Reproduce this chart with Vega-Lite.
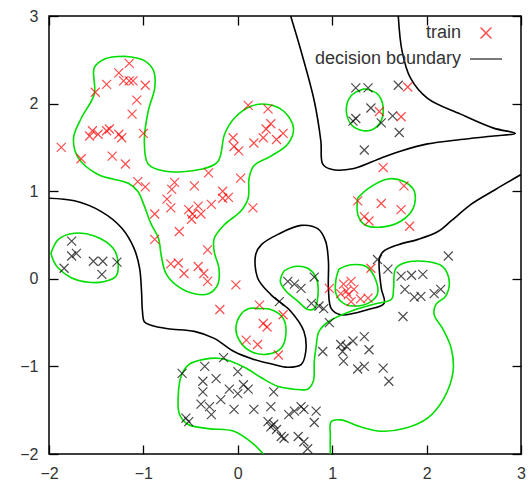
{
"$schema": "https://vega.github.io/schema/vega-lite/v6.json",
"width": 472, "height": 438,
"padding": {"left": 19, "top": 8, "right": 5, "bottom": 0},
"datasets": {
"pts": [
{"x":-1.15,"y":2.46,"s":"train"},{"x":-1.26,"y":2.35,"s":"train"},{"x":-1.39,"y":2.22,"s":"train"},{"x":-1.21,"y":2.26,"s":"train"},{"x":-1.15,"y":2.26,"s":"train"},{"x":-1.11,"y":2.26,"s":"train"},{"x":-0.98,"y":2.21,"s":"train"},{"x":-1.51,"y":2.13,"s":"train"},{"x":-1.07,"y":2.04,"s":"train"},{"x":-1.12,"y":1.88,"s":"train"},
{"x":-1.54,"y":1.69,"s":"train"},{"x":-1.57,"y":1.63,"s":"train"},{"x":-1.48,"y":1.65,"s":"train"},{"x":-1.39,"y":1.69,"s":"train"},{"x":-1.36,"y":1.71,"s":"train"},{"x":-1.26,"y":1.65,"s":"train"},{"x":-1.23,"y":1.61,"s":"train"},{"x":-1.00,"y":1.66,"s":"train"},{"x":-1.87,"y":1.50,"s":"train"},{"x":-1.66,"y":1.37,"s":"train"},
{"x":-1.33,"y":1.40,"s":"train"},{"x":-1.19,"y":1.31,"s":"train"},{"x":-1.06,"y":1.11,"s":"train"},{"x":-0.98,"y":1.05,"s":"train"},{"x":-0.88,"y":0.74,"s":"train"},{"x":-0.75,"y":0.91,"s":"train"},{"x":-0.70,"y":1.02,"s":"train"},{"x":-0.67,"y":1.10,"s":"train"},{"x":-0.71,"y":0.81,"s":"train"},{"x":-0.52,"y":0.79,"s":"train"},
{"x":-0.46,"y":1.06,"s":"train"},{"x":-0.42,"y":0.83,"s":"train"},{"x":-0.39,"y":0.74,"s":"train"},{"x":-0.48,"y":0.74,"s":"train"},{"x":-0.49,"y":0.68,"s":"train"},{"x":-0.31,"y":1.21,"s":"train"},{"x":-0.28,"y":0.85,"s":"train"},{"x":-0.16,"y":1.00,"s":"train"},{"x":-0.16,"y":0.92,"s":"train"},{"x":-0.10,"y":0.93,"s":"train"},
{"x":0.03,"y":1.15,"s":"train"},{"x":0.16,"y":0.81,"s":"train"},{"x":-0.62,"y":0.54,"s":"train"},{"x":-0.88,"y":0.45,"s":"train"},{"x":-0.32,"y":0.33,"s":"train"},{"x":-0.71,"y":0.17,"s":"train"},{"x":-0.63,"y":0.18,"s":"train"},{"x":-0.57,"y":0.06,"s":"train"},{"x":-0.42,"y":0.14,"s":"train"},{"x":-0.36,"y":0.06,"s":"train"},
{"x":-0.32,"y":-0.03,"s":"train"},{"x":-0.02,"y":-0.07,"s":"train"},{"x":-0.19,"y":-0.35,"s":"train"},{"x":0.11,"y":1.98,"s":"train"},{"x":0.32,"y":1.94,"s":"train"},{"x":0.35,"y":1.77,"s":"train"},{"x":0.30,"y":1.71,"s":"train"},{"x":0.48,"y":1.66,"s":"train"},{"x":0.41,"y":1.59,"s":"train"},{"x":0.27,"y":1.61,"s":"train"},
{"x":0.17,"y":1.55,"s":"train"},{"x":-0.05,"y":1.61,"s":"train"},{"x":-0.04,"y":1.51,"s":"train"},{"x":0.01,"y":1.46,"s":"train"},{"x":0.23,"y":-0.30,"s":"train"},{"x":0.31,"y":-0.55,"s":"train"},{"x":0.27,"y":-0.51,"s":"train"},{"x":0.09,"y":-0.70,"s":"train"},{"x":0.21,"y":-0.75,"s":"train"},{"x":0.43,"y":-0.87,"s":"train"},
{"x":0.48,"y":-0.41,"s":"train"},{"x":0.97,"y":-0.11,"s":"train"},{"x":1.41,"y":0.12,"s":"train"},{"x":1.12,"y":-0.06,"s":"train"},{"x":1.20,"y":-0.03,"s":"train"},{"x":1.23,"y":-0.12,"s":"train"},{"x":1.17,"y":-0.18,"s":"train"},{"x":1.20,"y":-0.26,"s":"train"},{"x":1.30,"y":-0.23,"s":"train"},{"x":1.38,"y":-0.22,"s":"train"},
{"x":1.09,"y":-0.17,"s":"train"},{"x":1.15,"y":-0.14,"s":"train"},{"x":1.27,"y":0.89,"s":"train"},{"x":1.52,"y":0.86,"s":"train"},{"x":1.73,"y":0.79,"s":"train"},{"x":1.34,"y":0.71,"s":"train"},{"x":1.39,"y":0.66,"s":"train"},{"x":1.82,"y":0.60,"s":"train"},{"x":1.76,"y":1.06,"s":"train"},{"x":1.54,"y":1.27,"s":"train"},
{"x":1.80,"y":2.19,"s":"train"},{"x":1.50,"y":1.91,"s":"train"},{"x":1.73,"y":1.85,"s":"train"},
{"x":1.25,"y":2.18,"s":"other"},{"x":1.38,"y":2.18,"s":"other"},{"x":1.70,"y":2.21,"s":"other"},{"x":1.41,"y":1.95,"s":"other"},{"x":1.22,"y":1.80,"s":"other"},{"x":1.25,"y":1.83,"s":"other"},{"x":1.52,"y":1.78,"s":"other"},{"x":1.64,"y":1.86,"s":"other"},{"x":1.71,"y":1.67,"s":"other"},{"x":1.34,"y":1.47,"s":"other"},
{"x":-1.76,"y":0.43,"s":"other"},{"x":-1.71,"y":0.29,"s":"other"},{"x":-1.76,"y":0.26,"s":"other"},{"x":-1.84,"y":0.12,"s":"other"},{"x":-1.53,"y":0.20,"s":"other"},{"x":-1.43,"y":0.20,"s":"other"},{"x":-1.28,"y":0.19,"s":"other"},{"x":-1.44,"y":0.05,"s":"other"},
{"x":0.53,"y":-0.03,"s":"other"},{"x":0.60,"y":-0.06,"s":"other"},{"x":0.67,"y":-0.11,"s":"other"},{"x":0.81,"y":0.02,"s":"other"},{"x":0.78,"y":-0.28,"s":"other"},{"x":0.86,"y":-0.31,"s":"other"},{"x":0.91,"y":-0.34,"s":"other"},{"x":0.97,"y":-0.50,"s":"other"},{"x":0.44,"y":-0.26,"s":"other"},
{"x":1.59,"y":0.11,"s":"other"},{"x":1.73,"y":0.03,"s":"other"},{"x":1.84,"y":0.04,"s":"other"},{"x":1.96,"y":0.05,"s":"other"},{"x":1.77,"y":-0.12,"s":"other"},{"x":1.87,"y":-0.21,"s":"other"},{"x":1.94,"y":-0.20,"s":"other"},{"x":2.08,"y":-0.17,"s":"other"},{"x":2.15,"y":-0.12,"s":"other"},{"x":2.23,"y":0.26,"s":"other"},{"x":1.75,"y":-0.43,"s":"other"},{"x":1.48,"y":0.22,"s":"other"},
{"x":0.90,"y":-0.83,"s":"other"},{"x":1.09,"y":-0.75,"s":"other"},{"x":1.11,"y":-0.83,"s":"other"},{"x":1.22,"y":-0.71,"s":"other"},{"x":1.34,"y":-0.66,"s":"other"},{"x":1.39,"y":-0.81,"s":"other"},{"x":1.12,"y":-0.94,"s":"other"},{"x":1.27,"y":-1.03,"s":"other"},{"x":1.34,"y":-1.00,"s":"other"},{"x":1.54,"y":-1.02,"s":"other"},{"x":1.60,"y":-1.17,"s":"other"},{"x":1.15,"y":-0.77,"s":"other"},
{"x":-0.59,"y":-1.08,"s":"other"},{"x":-0.35,"y":-1.00,"s":"other"},{"x":-0.15,"y":-0.90,"s":"other"},{"x":0.00,"y":-1.06,"s":"other"},{"x":-0.37,"y":-1.17,"s":"other"},{"x":-0.23,"y":-1.14,"s":"other"},{"x":-0.37,"y":-1.29,"s":"other"},{"x":-0.09,"y":-1.26,"s":"other"},{"x":0.06,"y":-1.21,"s":"other"},{"x":0.11,"y":-1.26,"s":"other"},
{"x":0.00,"y":-1.31,"s":"other"},{"x":-0.18,"y":-1.38,"s":"other"},{"x":-0.39,"y":-1.43,"s":"other"},{"x":-0.30,"y":-1.46,"s":"other"},{"x":-0.28,"y":-1.55,"s":"other"},{"x":-0.04,"y":-1.49,"s":"other"},{"x":0.17,"y":-1.49,"s":"other"},{"x":0.35,"y":-1.46,"s":"other"},{"x":0.38,"y":-1.29,"s":"other"},{"x":-0.55,"y":-1.59,"s":"other"},
{"x":-0.52,"y":-1.63,"s":"other"},{"x":0.32,"y":-1.63,"s":"other"},{"x":0.35,"y":-1.69,"s":"other"},{"x":0.41,"y":-1.72,"s":"other"},{"x":0.49,"y":-1.82,"s":"other"},{"x":0.54,"y":-1.55,"s":"other"},{"x":0.60,"y":-1.51,"s":"other"},{"x":0.67,"y":-1.46,"s":"other"},{"x":0.70,"y":-1.49,"s":"other"},{"x":0.83,"y":-1.51,"s":"other"},
{"x":0.81,"y":-1.64,"s":"other"},{"x":0.64,"y":-1.80,"s":"other"},{"x":0.70,"y":-1.86,"s":"other"},{"x":0.74,"y":-1.94,"s":"other"},{"x":0.38,"y":-1.66,"s":"other"},{"x":0.46,"y":-1.80,"s":"other"}
],
"lines": [
{"k":"A","s":"decision boundary","i":0,"x":-2.0,"y":0.92},{"k":"A","s":"decision boundary","i":1,"x":-1.73,"y":0.89},{"k":"A","s":"decision boundary","i":2,"x":-1.45,"y":0.77},{"k":"A","s":"decision boundary","i":3,"x":-1.23,"y":0.58},{"k":"A","s":"decision boundary","i":4,"x":-1.10,"y":0.35},{"k":"A","s":"decision boundary","i":5,"x":-1.04,"y":0.12},{"k":"A","s":"decision boundary","i":6,"x":-1.02,"y":-0.14},{"k":"A","s":"decision boundary","i":7,"x":-1.01,"y":-0.37},{"k":"A","s":"decision boundary","i":8,"x":-0.99,"y":-0.49},{"k":"A","s":"decision boundary","i":9,"x":-0.92,"y":-0.53},
{"k":"A","s":"decision boundary","i":10,"x":-0.74,"y":-0.57},{"k":"A","s":"decision boundary","i":11,"x":-0.46,"y":-0.60},{"k":"A","s":"decision boundary","i":12,"x":-0.25,"y":-0.68},{"k":"A","s":"decision boundary","i":13,"x":-0.04,"y":-0.83},{"k":"A","s":"decision boundary","i":14,"x":0.17,"y":-0.92},{"k":"A","s":"decision boundary","i":15,"x":0.35,"y":-0.97},{"k":"A","s":"decision boundary","i":16,"x":0.53,"y":-1.01},{"k":"A","s":"decision boundary","i":17,"x":0.67,"y":-0.98},{"k":"A","s":"decision boundary","i":18,"x":0.72,"y":-0.83},{"k":"A","s":"decision boundary","i":19,"x":0.70,"y":-0.60},
{"k":"A","s":"decision boundary","i":20,"x":0.56,"y":-0.37},{"k":"A","s":"decision boundary","i":21,"x":0.35,"y":-0.18},{"k":"A","s":"decision boundary","i":22,"x":0.21,"y":0.01},{"k":"A","s":"decision boundary","i":23,"x":0.19,"y":0.28},{"k":"A","s":"decision boundary","i":24,"x":0.25,"y":0.39},{"k":"A","s":"decision boundary","i":25,"x":0.43,"y":0.51},{"k":"A","s":"decision boundary","i":26,"x":0.67,"y":0.61},{"k":"A","s":"decision boundary","i":27,"x":0.85,"y":0.57},{"k":"A","s":"decision boundary","i":28,"x":0.93,"y":0.43},{"k":"A","s":"decision boundary","i":29,"x":0.96,"y":0.20},
{"k":"A","s":"decision boundary","i":30,"x":0.96,"y":-0.11},{"k":"A","s":"decision boundary","i":31,"x":0.99,"y":-0.34},{"k":"A","s":"decision boundary","i":32,"x":1.09,"y":-0.41},{"k":"A","s":"decision boundary","i":33,"x":1.38,"y":-0.35},{"k":"A","s":"decision boundary","i":34,"x":1.55,"y":-0.28},{"k":"A","s":"decision boundary","i":35,"x":1.52,"y":-0.11},{"k":"A","s":"decision boundary","i":36,"x":1.50,"y":0.23},{"k":"A","s":"decision boundary","i":37,"x":1.54,"y":0.31},{"k":"A","s":"decision boundary","i":38,"x":1.70,"y":0.39},{"k":"A","s":"decision boundary","i":39,"x":1.91,"y":0.45},
{"k":"A","s":"decision boundary","i":40,"x":2.12,"y":0.54},{"k":"A","s":"decision boundary","i":41,"x":2.26,"y":0.66},{"k":"A","s":"decision boundary","i":42,"x":2.47,"y":0.85},{"k":"A","s":"decision boundary","i":43,"x":2.73,"y":1.02},{"k":"A","s":"decision boundary","i":44,"x":3.0,"y":1.19},
{"k":"B","s":"decision boundary","i":0,"x":0.56,"y":3.0},{"k":"B","s":"decision boundary","i":1,"x":0.67,"y":2.60},{"k":"B","s":"decision boundary","i":2,"x":0.81,"y":2.03},{"k":"B","s":"decision boundary","i":3,"x":0.88,"y":1.57},{"k":"B","s":"decision boundary","i":4,"x":0.90,"y":1.31},{"k":"B","s":"decision boundary","i":5,"x":0.99,"y":1.25},{"k":"B","s":"decision boundary","i":6,"x":1.23,"y":1.26},{"k":"B","s":"decision boundary","i":7,"x":1.52,"y":1.38},{"k":"B","s":"decision boundary","i":8,"x":1.73,"y":1.46},{"k":"B","s":"decision boundary","i":9,"x":2.01,"y":1.54},
{"k":"B","s":"decision boundary","i":10,"x":2.36,"y":1.59},{"k":"B","s":"decision boundary","i":11,"x":2.71,"y":1.63},{"k":"B","s":"decision boundary","i":12,"x":2.94,"y":1.66},{"k":"B","s":"decision boundary","i":13,"x":2.71,"y":1.72},{"k":"B","s":"decision boundary","i":14,"x":2.36,"y":1.88},{"k":"B","s":"decision boundary","i":15,"x":2.01,"y":2.06},{"k":"B","s":"decision boundary","i":16,"x":1.83,"y":2.29},{"k":"B","s":"decision boundary","i":17,"x":1.74,"y":2.60},{"k":"B","s":"decision boundary","i":18,"x":1.70,"y":3.0},
{"k":"G1","s":"margin","i":0,"x":-1.20,"y":2.54},{"k":"G1","s":"margin","i":1,"x":-0.99,"y":2.49},{"k":"G1","s":"margin","i":2,"x":-0.89,"y":2.37},{"k":"G1","s":"margin","i":3,"x":-0.88,"y":2.18},{"k":"G1","s":"margin","i":4,"x":-0.95,"y":1.91},{"k":"G1","s":"margin","i":5,"x":-0.99,"y":1.57},{"k":"G1","s":"margin","i":6,"x":-0.95,"y":1.31},{"k":"G1","s":"margin","i":7,"x":-0.78,"y":1.23},{"k":"G1","s":"margin","i":8,"x":-0.39,"y":1.25},{"k":"G1","s":"margin","i":9,"x":-0.21,"y":1.34},
{"k":"G1","s":"margin","i":10,"x":-0.14,"y":1.65},{"k":"G1","s":"margin","i":11,"x":-0.04,"y":1.83},{"k":"G1","s":"margin","i":12,"x":0.14,"y":1.97},{"k":"G1","s":"margin","i":13,"x":0.32,"y":1.99},{"k":"G1","s":"margin","i":14,"x":0.49,"y":1.91},{"k":"G1","s":"margin","i":15,"x":0.59,"y":1.72},{"k":"G1","s":"margin","i":16,"x":0.53,"y":1.54},{"k":"G1","s":"margin","i":17,"x":0.35,"y":1.40},{"k":"G1","s":"margin","i":18,"x":0.17,"y":1.29},{"k":"G1","s":"margin","i":19,"x":0.12,"y":1.15},
{"k":"G1","s":"margin","i":20,"x":0.11,"y":0.92},{"k":"G1","s":"margin","i":21,"x":0.03,"y":0.77},{"k":"G1","s":"margin","i":22,"x":-0.14,"y":0.62},{"k":"G1","s":"margin","i":23,"x":-0.25,"y":0.46},{"k":"G1","s":"margin","i":24,"x":-0.25,"y":0.31},{"k":"G1","s":"margin","i":25,"x":-0.20,"y":0.12},{"k":"G1","s":"margin","i":26,"x":-0.21,"y":-0.06},{"k":"G1","s":"margin","i":27,"x":-0.31,"y":-0.17},{"k":"G1","s":"margin","i":28,"x":-0.46,"y":-0.17},{"k":"G1","s":"margin","i":29,"x":-0.63,"y":-0.09},
{"k":"G1","s":"margin","i":30,"x":-0.76,"y":0.06},{"k":"G1","s":"margin","i":31,"x":-0.81,"y":0.26},{"k":"G1","s":"margin","i":32,"x":-0.84,"y":0.46},{"k":"G1","s":"margin","i":33,"x":-0.92,"y":0.63},{"k":"G1","s":"margin","i":34,"x":-0.99,"y":0.83},{"k":"G1","s":"margin","i":35,"x":-1.06,"y":1.00},{"k":"G1","s":"margin","i":36,"x":-1.16,"y":1.09},{"k":"G1","s":"margin","i":37,"x":-1.48,"y":1.19},{"k":"G1","s":"margin","i":38,"x":-1.69,"y":1.38},{"k":"G1","s":"margin","i":39,"x":-1.74,"y":1.61},
{"k":"G1","s":"margin","i":40,"x":-1.66,"y":1.83},{"k":"G1","s":"margin","i":41,"x":-1.52,"y":2.11},{"k":"G1","s":"margin","i":42,"x":-1.52,"y":2.41},{"k":"G1","s":"margin","i":43,"x":-1.41,"y":2.51},{"k":"G1","s":"margin","i":44,"x":-1.20,"y":2.54},
{"k":"G2","s":"margin","i":0,"x":-1.98,"y":0.29},{"k":"G2","s":"margin","i":1,"x":-1.90,"y":0.45},{"k":"G2","s":"margin","i":2,"x":-1.73,"y":0.52},{"k":"G2","s":"margin","i":3,"x":-1.52,"y":0.49},{"k":"G2","s":"margin","i":4,"x":-1.32,"y":0.35},{"k":"G2","s":"margin","i":5,"x":-1.27,"y":0.20},{"k":"G2","s":"margin","i":6,"x":-1.29,"y":0.03},{"k":"G2","s":"margin","i":7,"x":-1.41,"y":-0.03},{"k":"G2","s":"margin","i":8,"x":-1.58,"y":-0.04},{"k":"G2","s":"margin","i":9,"x":-1.76,"y":0.01},{"k":"G2","s":"margin","i":10,"x":-1.90,"y":0.12},{"k":"G2","s":"margin","i":11,"x":-1.95,"y":0.20},{"k":"G2","s":"margin","i":12,"x":-1.98,"y":0.29},
{"k":"G3","s":"margin","i":0,"x":0.27,"y":-2.0},{"k":"G3","s":"margin","i":1,"x":0.17,"y":-1.89},{"k":"G3","s":"margin","i":2,"x":-0.04,"y":-1.74},{"k":"G3","s":"margin","i":3,"x":-0.31,"y":-1.71},{"k":"G3","s":"margin","i":4,"x":-0.53,"y":-1.66},{"k":"G3","s":"margin","i":5,"x":-0.62,"y":-1.54},{"k":"G3","s":"margin","i":6,"x":-0.63,"y":-1.32},{"k":"G3","s":"margin","i":7,"x":-0.60,"y":-1.11},{"k":"G3","s":"margin","i":8,"x":-0.52,"y":-0.98},{"k":"G3","s":"margin","i":9,"x":-0.36,"y":-0.92},
{"k":"G3","s":"margin","i":10,"x":-0.18,"y":-0.91},{"k":"G3","s":"margin","i":11,"x":0.07,"y":-1.01},{"k":"G3","s":"margin","i":12,"x":0.25,"y":-1.13},{"k":"G3","s":"margin","i":13,"x":0.43,"y":-1.23},{"k":"G3","s":"margin","i":14,"x":0.60,"y":-1.26},{"k":"G3","s":"margin","i":15,"x":0.74,"y":-1.26},{"k":"G3","s":"margin","i":16,"x":0.80,"y":-1.17},{"k":"G3","s":"margin","i":17,"x":0.81,"y":-0.94},{"k":"G3","s":"margin","i":18,"x":0.83,"y":-0.77},{"k":"G3","s":"margin","i":19,"x":0.86,"y":-0.60},
{"k":"G3","s":"margin","i":20,"x":0.96,"y":-0.49},{"k":"G3","s":"margin","i":21,"x":1.20,"y":-0.37},{"k":"G3","s":"margin","i":22,"x":1.44,"y":-0.29},{"k":"G3","s":"margin","i":23,"x":1.63,"y":-0.23},{"k":"G3","s":"margin","i":24,"x":1.65,"y":-0.11},{"k":"G3","s":"margin","i":25,"x":1.67,"y":0.11},{"k":"G3","s":"margin","i":26,"x":1.76,"y":0.18},{"k":"G3","s":"margin","i":27,"x":1.97,"y":0.20},{"k":"G3","s":"margin","i":28,"x":2.17,"y":0.14},{"k":"G3","s":"margin","i":29,"x":2.24,"y":-0.03},
{"k":"G3","s":"margin","i":30,"x":2.20,"y":-0.20},{"k":"G3","s":"margin","i":31,"x":2.10,"y":-0.29},{"k":"G3","s":"margin","i":32,"x":2.08,"y":-0.41},{"k":"G3","s":"margin","i":33,"x":2.17,"y":-0.57},{"k":"G3","s":"margin","i":34,"x":2.26,"y":-0.79},{"k":"G3","s":"margin","i":35,"x":2.28,"y":-1.06},{"k":"G3","s":"margin","i":36,"x":2.18,"y":-1.37},{"k":"G3","s":"margin","i":37,"x":2.01,"y":-1.59},{"k":"G3","s":"margin","i":38,"x":1.76,"y":-1.71},{"k":"G3","s":"margin","i":39,"x":1.52,"y":-1.74},
{"k":"G3","s":"margin","i":40,"x":1.30,"y":-1.69},{"k":"G3","s":"margin","i":41,"x":1.09,"y":-1.61},{"k":"G3","s":"margin","i":42,"x":0.99,"y":-1.63},{"k":"G3","s":"margin","i":43,"x":0.98,"y":-1.80},{"k":"G3","s":"margin","i":44,"x":0.98,"y":-2.0},
{"k":"G4","s":"margin","i":0,"x":0.22,"y":-0.34},{"k":"G4","s":"margin","i":1,"x":0.35,"y":-0.35},{"k":"G4","s":"margin","i":2,"x":0.48,"y":-0.45},{"k":"G4","s":"margin","i":3,"x":0.51,"y":-0.62},{"k":"G4","s":"margin","i":4,"x":0.46,"y":-0.79},{"k":"G4","s":"margin","i":5,"x":0.32,"y":-0.86},{"k":"G4","s":"margin","i":6,"x":0.14,"y":-0.83},{"k":"G4","s":"margin","i":7,"x":0.02,"y":-0.71},{"k":"G4","s":"margin","i":8,"x":-0.02,"y":-0.57},{"k":"G4","s":"margin","i":9,"x":0.03,"y":-0.41},{"k":"G4","s":"margin","i":10,"x":0.12,"y":-0.34},{"k":"G4","s":"margin","i":11,"x":0.22,"y":-0.34},
{"k":"G5","s":"margin","i":0,"x":0.49,"y":0.09},{"k":"G5","s":"margin","i":1,"x":0.60,"y":0.14},{"k":"G5","s":"margin","i":2,"x":0.74,"y":0.12},{"k":"G5","s":"margin","i":3,"x":0.83,"y":0.01},{"k":"G5","s":"margin","i":4,"x":0.85,"y":-0.18},{"k":"G5","s":"margin","i":5,"x":0.81,"y":-0.34},{"k":"G5","s":"margin","i":6,"x":0.74,"y":-0.35},{"k":"G5","s":"margin","i":7,"x":0.64,"y":-0.26},{"k":"G5","s":"margin","i":8,"x":0.51,"y":-0.14},{"k":"G5","s":"margin","i":9,"x":0.45,"y":-0.03},{"k":"G5","s":"margin","i":10,"x":0.49,"y":0.09},
{"k":"G6","s":"margin","i":0,"x":1.07,"y":0.11},{"k":"G6","s":"margin","i":1,"x":1.20,"y":0.16},{"k":"G6","s":"margin","i":2,"x":1.36,"y":0.14},{"k":"G6","s":"margin","i":3,"x":1.46,"y":-0.01},{"k":"G6","s":"margin","i":4,"x":1.48,"y":-0.17},{"k":"G6","s":"margin","i":5,"x":1.41,"y":-0.26},{"k":"G6","s":"margin","i":6,"x":1.27,"y":-0.31},{"k":"G6","s":"margin","i":7,"x":1.12,"y":-0.28},{"k":"G6","s":"margin","i":8,"x":1.04,"y":-0.17},{"k":"G6","s":"margin","i":9,"x":1.04,"y":-0.01},{"k":"G6","s":"margin","i":10,"x":1.07,"y":0.11},
{"k":"G7","s":"margin","i":0,"x":1.27,"y":0.92},{"k":"G7","s":"margin","i":1,"x":1.38,"y":1.03},{"k":"G7","s":"margin","i":2,"x":1.59,"y":1.14},{"k":"G7","s":"margin","i":3,"x":1.76,"y":1.11},{"k":"G7","s":"margin","i":4,"x":1.87,"y":1.00},{"k":"G7","s":"margin","i":5,"x":1.86,"y":0.81},{"k":"G7","s":"margin","i":6,"x":1.73,"y":0.66},{"k":"G7","s":"margin","i":7,"x":1.52,"y":0.59},{"k":"G7","s":"margin","i":8,"x":1.34,"y":0.62},{"k":"G7","s":"margin","i":9,"x":1.27,"y":0.74},{"k":"G7","s":"margin","i":10,"x":1.27,"y":0.92},
{"k":"G8","s":"margin","i":0,"x":1.34,"y":2.17},{"k":"G8","s":"margin","i":1,"x":1.48,"y":2.11},{"k":"G8","s":"margin","i":2,"x":1.54,"y":1.95},{"k":"G8","s":"margin","i":3,"x":1.50,"y":1.77},{"k":"G8","s":"margin","i":4,"x":1.38,"y":1.69},{"k":"G8","s":"margin","i":5,"x":1.22,"y":1.74},{"k":"G8","s":"margin","i":6,"x":1.15,"y":1.91},{"k":"G8","s":"margin","i":7,"x":1.20,"y":2.09},{"k":"G8","s":"margin","i":8,"x":1.34,"y":2.17}
]
},
"config": {
"view": {"stroke": "#000", "strokeWidth": 1.5},
"axis": {"domain": false, "grid": false, "ticks": true, "tickColor": "#000", "tickWidth": 1.3, "tickSize": -9, "labelFlush": false, "labelFont": "Liberation Sans", "labelFontSize": 16, "labelColor": "#333", "title": null},
"axisX": {"labelPadding": 20},
"axisY": {"labelPadding": 20},
"legend": {"orient": "none", "legendX": 238, "legendY": 0, "padding": 0, "labelFont": "Liberation Sans", "labelFontSize": 18, "labelColor": "#333", "labelAlign": "right", "labelOffset": -42, "symbolOffset": 182, "symbolSize": 1024, "symbolStrokeWidth": 1.5, "rowPadding": -1}
},
"layer": [
{"data": {"name": "lines"},
 "mark": {"type": "line", "strokeWidth": 1.6, "clip": true, "interpolate": "catmull-rom"},
 "encoding": {
  "x": {"field": "x", "type": "quantitative", "scale": {"domain": [-2, 3], "nice": false, "zero": false}, "axis": {"values": [-2, -1, 0, 1, 2, 3]}},
  "y": {"field": "y", "type": "quantitative", "scale": {"domain": [-2, 3], "nice": false, "zero": false}, "axis": {"values": [-2, -1, 0, 1, 2, 3]}},
  "color": {"field": "s", "type": "nominal", "scale": {"domain": ["train", "other", "decision boundary", "margin"], "range": ["#ff0000", "#000000", "#000000", "#00dd00"]}, "legend": {"title": null, "values": ["train", "decision boundary"]}},
  "detail": {"field": "k"},
  "order": {"field": "i", "type": "quantitative"}
 }},
{"data": {"name": "pts"},
 "mark": {"type": "point", "filled": false, "size": 700, "strokeWidth": 1.2, "clip": true},
 "encoding": {
  "x": {"field": "x", "type": "quantitative", "scale": {"domain": [-2, 3], "nice": false, "zero": false}, "axis": {"values": [-2, -1, 0, 1, 2, 3], "labels": false}},
  "y": {"field": "y", "type": "quantitative", "scale": {"domain": [-2, 3], "nice": false, "zero": false}, "axis": {"values": [-2, -1, 0, 1, 2, 3], "labels": false}},
  "color": {"field": "s", "type": "nominal", "scale": {"domain": ["train", "other", "decision boundary", "margin"], "range": ["#ff0000", "#000000", "#000000", "#00dd00"]}, "legend": {"title": null, "values": ["train", "decision boundary"]}},
  "shape": {"field": "s", "type": "nominal", "scale": {"domain": ["train", "other", "decision boundary", "margin"], "range": ["M-0.34,-0.34L0.34,0.34M0.34,-0.34L-0.34,0.34", "M-0.34,-0.34L0.34,0.34M0.34,-0.34L-0.34,0.34", "M-1,0L1,0", "M-1,0L1,0"]}, "legend": {"title": null, "values": ["train", "decision boundary"]}}
 }}
],
"resolve": {"axis": {"x": "independent", "y": "independent"}}
}
